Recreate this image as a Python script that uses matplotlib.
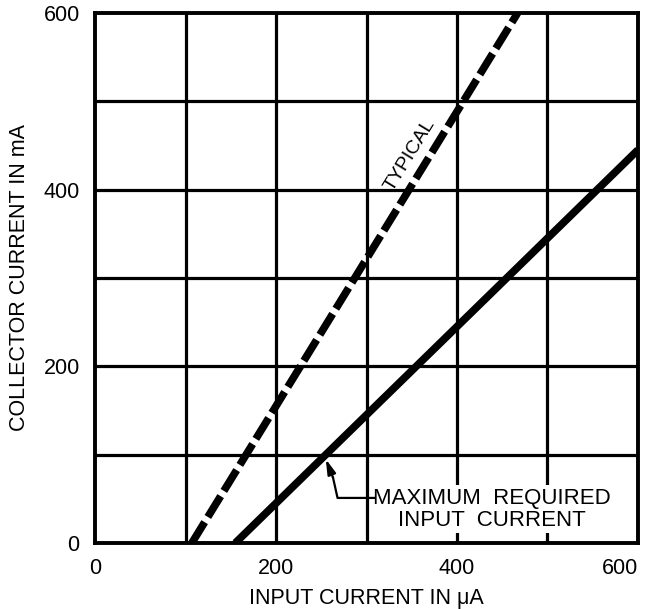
import matplotlib.pyplot as plt

plt.rcParams['font.family'] = ['Liberation Sans', 'DejaVu Sans']

# input current (uA) vs collector current (mA)
typical_x = [107, 467]
typical_y = [0, 600]
maxreq_x = [155, 600]
maxreq_y = [0, 445]

# leader from the label to the solid line
leader_x = [309, 268, 263]
leader_y = [51, 51, 74]
leader_tip = (255, 95)

grid_ticks = [0, 100, 200, 300, 400, 500, 600]
label_ticks = [0, 200, 400, 600]

fig = plt.figure(figsize=(6.54, 6.09), dpi=100)
ax = fig.add_axes([0.1453, 0.1084, 0.8302, 0.8703])
ax.set_xlim(0, 600)
ax.set_ylim(0, 600)

for v in grid_ticks[1:-1]:
    ax.axvline(v, color='black', lw=2.3, zorder=1)
    ax.axhline(v, color='black', lw=2.3, zorder=1)

ax.plot(typical_x, typical_y, color='black', lw=5.5, linestyle=(0, (3.2, 0.8)),
        dash_capstyle='butt', zorder=3)
ax.plot(maxreq_x, maxreq_y, color='black', lw=5.5, solid_capstyle='butt', zorder=3)

ax.text(348, 439, 'TYPICAL', rotation=58.4, ha='center', va='center',
        fontsize=14, zorder=4)

ax.plot(leader_x, leader_y, color='black', lw=1.6, zorder=4)
ax.annotate('', xy=leader_tip, xytext=(leader_x[-1], leader_y[-1]),
            arrowprops=dict(arrowstyle='-|>,head_length=0.9,head_width=0.25',
                            color='black', lw=1.6, shrinkA=0, shrinkB=0), zorder=4)
ax.text(438, 38, 'MAXIMUM  REQUIRED\nINPUT  CURRENT', ha='center', va='center',
        fontsize=16, linespacing=1.05, zorder=2,
        bbox=dict(facecolor='white', edgecolor='none', pad=2))

ax.set_xticks(label_ticks)
ax.set_yticks(label_ticks)
ax.tick_params(length=0, labelsize=15.5, pad=11)
# last x label sits inside the frame edge
ax.get_xticklabels()[-1].set_horizontalalignment('right')
ax.set_xlabel('INPUT CURRENT IN \u03bcA', fontsize=15.5, labelpad=6)
ax.set_ylabel('COLLECTOR CURRENT IN mA', fontsize=15.5, labelpad=10)
for s in ax.spines.values():
    s.set_linewidth(2.8)
    s.set_zorder(5)

fig.savefig('out.png', dpi=100)
